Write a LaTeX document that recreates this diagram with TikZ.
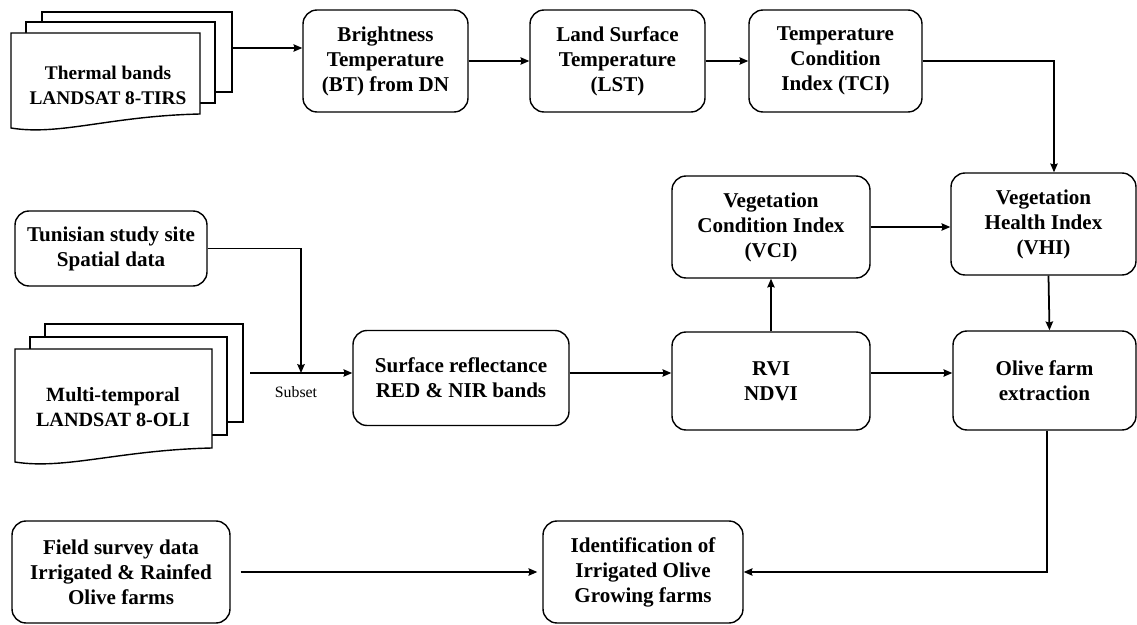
\documentclass[tikz,border=0pt]{standalone}
\usepackage{fontspec}
\setmainfont{Liberation Serif}
\usetikzlibrary{arrows.meta}

\begin{document}
\begin{tikzpicture}[x=0.02cm, y=-0.02cm, line width=0.8pt,
    box/.style={draw, rounded corners=0.28cm, align=center, inner sep=1pt, font=\bfseries\fontsize{12}{14.2}\selectfont},
    page/.style={draw, fill=white},
    doctext/.style={align=center, font=\bfseries\fontsize{11.5}{14.2}\selectfont},
    arr/.style={-{Stealth[length=5pt,width=4.2pt,inset=0.6pt]}, line width=1pt}]
  \useasboundingbox (0,0) rectangle (1137,625);
  \draw [page] (42,12) rectangle (232,92);
  \draw [page] (26,22) rectangle (215,103);
  \draw [page] (11,33) -- (200,33) -- (200,114) .. controls (110,116) and (60,136) .. (11,128) -- cycle;
  \node [doctext, font=\bfseries\fontsize{11}{14.2}\selectfont] (thermal) at (108,85) {Thermal bands\\LANDSAT 8-TIRS};
  \draw [page] (45,324) rectangle (243,422);
  \draw [page] (30,337) rectangle (227,435);
  \draw [page] (15,349) -- (212,349) -- (212,448) .. controls (120,450) and (65,470) .. (15,462) -- cycle;
  \node [doctext] (multi) at (113,407) {Multi-temporal\\LANDSAT 8-OLI};
  \node [box, minimum width=3.3cm, minimum height=2.04cm] (bt) at (385.5,61) {Brightness\\Temperature\\(BT) from DN};
  \node [box, minimum width=3.5cm, minimum height=2.04cm] (lst) at (617.5,61) {Land Surface\\Temperature\\(LST)};
  \node [box, minimum width=3.46cm, minimum height=2.04cm] (tci) at (835.5,61) {Temperature\\Condition\\Index (TCI)};
  \node [box, minimum width=3.96cm, minimum height=2.04cm] (vci) at (771,227) {Vegetation\\Condition Index\\(VCI)};
  \node [box, minimum width=3.7cm, minimum height=2.04cm] (vhi) at (1043.5,224) {Vegetation\\Health Index\\(VHI)};
  \node [box, minimum width=3.84cm, minimum height=1.5cm] (tunis) at (111,248.5) {Tunisian study site\\Spatial data};
  \node [box, minimum width=4.32cm, minimum height=1.9cm] (surf) at (461,378) {Surface reflectance\\RED \& NIR bands};
  \node [box, minimum width=3.96cm, minimum height=1.96cm] (rvi) at (771,381) {RVI\\NDVI};
  \node [box, minimum width=3.66cm, minimum height=1.98cm] (olive) at (1044.5,380.5) {Olive farm\\extraction};
  \node [box, minimum width=4.36cm, minimum height=2.04cm] (field) at (121,572) {Field survey data\\Irrigated \& Rainfed\\Olive farms};
  \node [box, minimum width=4cm, minimum height=2.04cm] (ident) at (643,572) {Identification of\\Irrigated Olive\\Growing farms};
  \coordinate (tout) at (232,48);
  \coordinate (mout) at (250,373);
  \coordinate (subset) at (301,373);
  \node [font=\fontsize{9}{11}\selectfont] (subsetlbl) at (296,392) {Subset};
  \draw [arr] (tout) -- (tout -| bt.west);
  \draw [arr] (bt) -- (lst);
  \draw [arr] (lst) -- (tci);
  \draw [arr] (tci.east) -| ([xshift=0.21cm]vhi.north);
  \draw [arr] (vci.east) -- (vci.east -| vhi.west);
  \draw [arr] (rvi) -- (vci);
  \draw [arr] ([xshift=0.1cm]vhi.south) -- ([xshift=0.1cm]olive.north);
  \draw [arr] (tunis.east) -| (subset);
  \draw [arr] (mout) -- (mout -| surf.west);
  \draw [arr] (mout -| surf.east) -- (mout -| rvi.west);
  \draw [arr] (mout -| rvi.east) -- (mout -| olive.west);
  \draw [arr] ([xshift=0.05cm]olive.south) |- (ident.east);
  \draw [arr, shorten <=0.2cm, shorten >=0.1cm] (field) -- (ident);
\end{tikzpicture}
\end{document}
